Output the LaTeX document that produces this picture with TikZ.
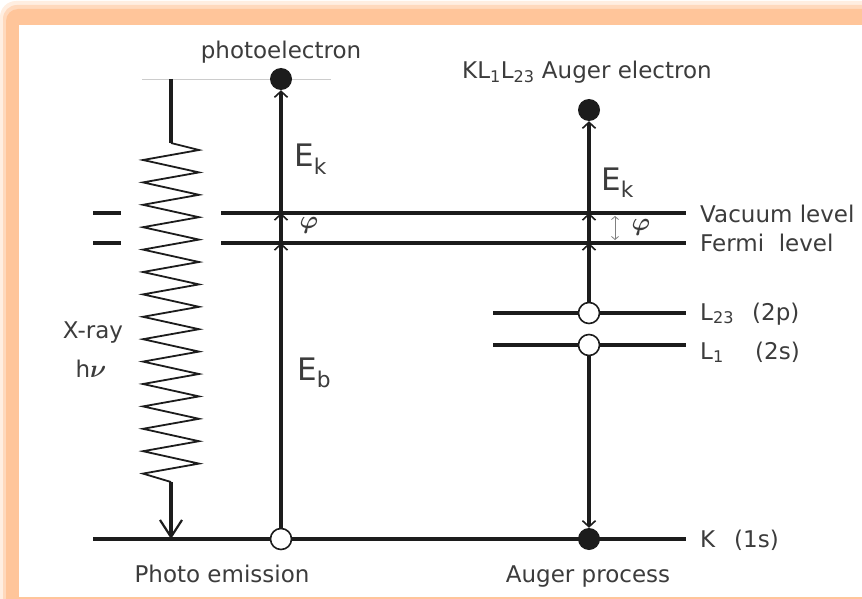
\documentclass[tikz,border=0pt]{standalone}
\usepackage{graphicx}
\usepackage{fontspec}
\setmainfont{DejaVu Sans}
\usetikzlibrary{arrows.meta}
\definecolor{ink}{HTML}{1C1C1C}
\definecolor{txt}{HTML}{3C3C3C}
\definecolor{peach}{HTML}{FFC59A}
\newcommand{\bigsym}[1]{\scalebox{2.5}{\normalsize\boldmath$#1$}}
\begin{document}
\begin{tikzpicture}[x=1pt,y=-1pt,
  level/.style={line width=3.2pt,draw=ink},
  elec/.style={circle,fill=ink,minimum size=22pt,inner sep=0pt},
  hole/.style={circle,draw=ink,fill=white,line width=1.6pt,minimum size=21pt,inner sep=0pt},
  jump/.style={line width=3.2pt,draw=ink,-{Straight Barb[length=6pt,width=13pt,line width=1.6pt]}},
  lbl/.style={text=txt,inner sep=0pt,font=\fontsize{23}{27}\selectfont},
  big/.style={text=txt,inner sep=0pt,font=\fontsize{31}{36}\selectfont}]
  \useasboundingbox (0,0) rectangle (862,599);
  % frame
  \fill[peach!30,rounded corners=16pt] (0,1) rectangle (900,640);
  \fill[peach!65,rounded corners=14pt] (3,5) rectangle (900,640);
  \fill[peach,rounded corners=12pt] (6,9) rectangle (900,640);
  \fill[white] (19,25) rectangle (900,597);

  % energy levels
  \draw[gray!40,line width=0.8pt] (142,79) -- (331,79);
  \draw[level] (93,213) -- (121,213);
  \draw[level] (93,243) -- (121,243);
  \draw[level] (221,213) -- (686,213); % vacuum
  \draw[level] (221,243) -- (686,243); % fermi
  \draw[level] (493,313) -- (686,313); % L23
  \draw[level] (493,345) -- (686,345); % L1
  \draw[level] (93,539) -- (686,539);  % K

  % electrons and holes
  \node[elec] (pe-e) at (281,79) {};
  \node[hole] (pe-h) at (281,539) {};
  \node[elec] (au-e) at (589,110) {};
  \node[hole] (au-l23) at (589,313) {};
  \node[hole] (au-l1) at (589,345) {};
  \node[elec] (au-k) at (589,539) {};

  % photo emission
  \coordinate (pe-f) at (281,243);
  \coordinate (pe-v) at (281,213);
  \draw[jump] (pe-h) -- (pe-f);
  \draw[jump] (pe-f) -- (pe-v);
  \draw[jump] (pe-v) -- (pe-e);

  % auger process
  \coordinate (au-f) at (589,243);
  \coordinate (au-v) at (589,213);
  \draw[jump] (au-l23) -- (au-f);
  \draw[jump] (au-f) -- (au-v);
  \draw[jump] (au-v) -- (au-e);
  \draw[jump] (au-l1) -- (au-k);
  \coordinate (phi-t) at (615,216);
  \coordinate (phi-b) at (615,240);
  \draw[gray,line width=0.8pt,{Straight Barb[length=3pt,width=7pt]}-{Straight Barb[length=3pt,width=7pt]}] (phi-t) -- (phi-b);

  % x-ray
  \coordinate (xr-top) at (171,79);
  \coordinate (xr-in) at (171,143);
  \coordinate (xr-out) at (171,482);
  \coordinate (xr-k) at (171,539);
  \draw[ink,line width=3.2pt] (xr-top) -- (xr-in);
  \draw[ink,line width=1.8pt,line join=miter] (xr-in)
    foreach \i in {0,...,14} { -- (199,{150+22.4*\i}) -- (143,{160+22.4*\i}) } -- (xr-out);
  \draw[ink,line width=3.2pt,-{Straight Barb[length=17pt,width=22pt,line width=2.2pt]}] (xr-out) -- (xr-k);

  % labels
  \node[lbl,anchor=base] (t-pe) at (281,59) {photoelectron};
  \node[lbl,anchor=base] (t-au) at (587,79) {KL\textsubscript{1}L\textsubscript{23} Auger electron};
  \node[lbl,anchor=base west] (t-vac) at (700,222) {Vacuum level};
  \node[lbl,anchor=base west] (t-fer) at (700,251) {Fermi\ \ level};
  \node[lbl,anchor=base west] (t-l23) at (700,320) {\makebox[52pt][l]{L\textsubscript{23}}(2p)};
  \node[lbl,anchor=base west] (t-l1) at (700,359) {\makebox[55pt][l]{L\textsubscript{1}}(2s)};
  \node[lbl,anchor=base west] (t-k) at (700,547) {\makebox[34pt][l]{K}(1s)};
  \node[lbl,anchor=base] (t-xr) at (93,338) {X-ray};
  \node[lbl,anchor=base] (t-hv) at (91,377) {h\bigsym{\nu}};
  \node[lbl,anchor=base] (t-phe) at (222,582) {Photo emission};
  \node[lbl,anchor=base] (t-aup) at (588,582) {Auger process};
  \node[big,anchor=base west] (t-ek1) at (294,167) {E\textsubscript{k}};
  \node[big,anchor=base west] (t-ek2) at (601,190) {E\textsubscript{k}};
  \node[big,anchor=base west] (t-eb) at (297,380) {E\textsubscript{b}};
  \node[lbl] (t-phi1) at (309,225) {\bigsym{\varphi}};
  \node[lbl] (t-phi2) at (641,227) {\bigsym{\varphi}};
\end{tikzpicture}
\end{document}
